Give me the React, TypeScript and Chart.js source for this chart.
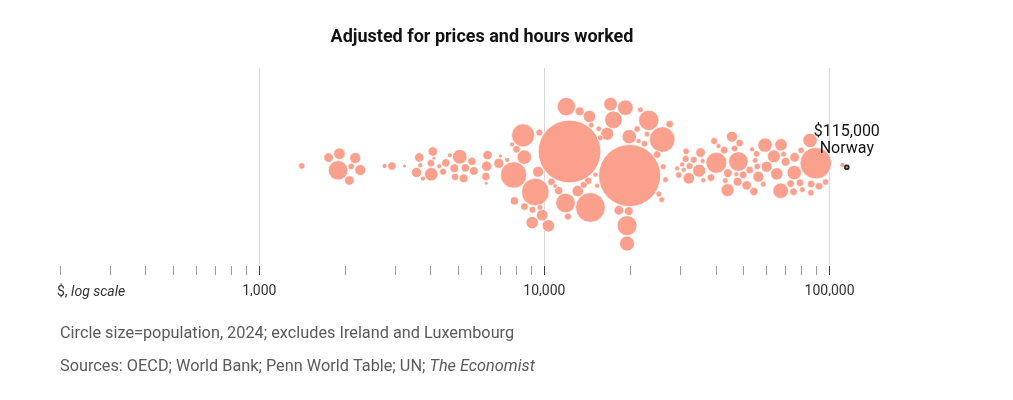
import { useEffect, useRef } from "react";
import { Chart, registerables } from "chart.js";

Chart.register(...registerables);

// GDP per person, adjusted for prices and hours worked ($)
const gdpAdjusted: number[] = [
  1410, 1890, 2100, 2170, 1750, 1910, 2070, 2260,
  2750, 2920, 3230, 3640, 3750, 4060, 4100, 3560, 3670, 4010, 4000, 4280,
  4410, 4510, 4660, 4860, 5210, 5280, 5050, 4830, 5570, 5660, 6250, 6230,
  6320, 6270, 6920, 7010, 7400,
  9290, 11860, 13300, 14230, 7800, 9060, 12250, 17060, 19230, 16600, 18240,
  19770, 15700, 25900, 19900, 7850, 8500, 9500, 8420, 9600, 10330, 11220,
  12090, 13090, 14390, 7980, 8510, 9080, 9820, 10590, 11940, 14500, 13730,
  14600, 17460, 19850, 23230, 19490, 19500, 21150, 22430, 24850, 15500,
  15100, 15300, 21700, 22900, 21400, 9650, 10900, 7700,
  25800, 26100, 27500, 26600, 25200, 29600, 30800, 31300, 31400, 32100,
  32300, 34900, 33400, 35300, 36100, 38400, 39400, 40100, 40800, 42700,
  43100, 43900, 44000, 45500, 47600, 47900, 46400, 47100, 49800, 51200,
  48400, 52500, 54300, 56300, 29200, 30400, 35900,
  67400, 74800, 78800, 86000, 85500, 75400, 67600, 60200, 55500, 55800,
  53500, 80300, 86200, 91900, 96900, 75200, 63800, 58600, 54800, 70100,
  79500, 89500, 59400, 65300, 73000, 69000, 111000,
  115000,
];

// Population 2024, millions (from circle areas)
const populationM: number[] = [
  15.4, 140, 15.4, 44.7, 33.7, 49, 33.7, 44.7,
  6.8, 25.8, 3.3, 32.5, 6.8, 32.5, 3.3, 38, 9.3, 65.4, 21.4, 9.3,
  18, 25.8, 6.8, 20, 29, 25.8, 78, 29, 25.8, 28, 3.3, 23.5,
  32.5, 39, 38, 4.1, 6.8,
  280, 140, 29, 21.4, 255, 56.8, 1440, 67.6, 89, 62, 33.7,
  29, 11.8, 240, 1410, 24.6, 76, 44.7, 194, 18, 56.8, 25.8,
  18, 49, 56.8, 21.4, 21.4, 18, 49, 21.4, 124, 322, 18,
  11.8, 113.6, 76, 152, 82, 146, 15.4, 15.4, 21.4, 11.8,
  9.3, 9.3, 11.8, 11.8, 9.3, 11.8, 8.1, 6.8,
  11.8, 13, 21.4, 11.8, 13, 15.4, 9.3, 18, 15.4, 49,
  18, 62, 18, 33.7, 9.3, 21.4, 18, 161, 9.3, 21.4,
  11.8, 62, 29, 44.7, 29, 140, 15.4, 9.3, 21.4, 32.5,
  21.4, 21.4, 25.8, 44.7, 9.3, 9.3, 9.3,
  89, 21.4, 21.4, 15.4, 76, 33.7, 56.8, 44.7, 15.4, 15.4,
  9.3, 11.8, 21.4, 21.4, 15.4, 76, 62, 11.8, 11.8, 29,
  15.4, 363, 76, 56.8, 21.4, 11.8, 6.8,
  5.5,
];

const highlightCountry = "Norway";
const highlightIndex = gdpAdjusted.length - 1;

const minorTicks: number[] = [
  200, 300, 400, 500, 600, 700, 800, 900,
  2000, 3000, 4000, 5000, 6000, 7000, 8000, 9000,
  20000, 30000, 40000, 50000, 60000, 70000, 80000, 90000,
];
const majorTicks: number[] = [1000, 10000, 100000];
const majorTickLabels: string[] = ["1,000", "10,000", "100,000"];

const titleText = "Adjusted for prices and hours worked";
const axisNote = ["$, ", "log scale"];
const footnote = "Circle size=population, 2024; excludes Ireland and Luxembourg";
const sourceNote = ["Sources: OECD; World Bank; Penn World Table; UN; ", "The Economist"];

const FILL = "rgb(250,160,140)";
const MAX_R = 31;
const MAX_POP = 1410;
const FONT = "Roboto";

// Beeswarm layout: a force pass to pack the circles, then a vertical-only pass
// with x fixed on the data values so that nothing overlaps.
function swarm(tx: number[], radii: number[], cy: number, pad: number): number[] {
  const n = tx.length;
  const x = tx.slice();
  const y = tx.map((_, i) => cy - (((i * 37) % 17) - 8) * 0.35);
  const vx = new Array(n).fill(0);
  const vy = new Array(n).fill(0);
  const r = radii.map((v) => v + pad);
  let alpha = 1;
  const alphaDecay = 1 - Math.pow(0.001, 1 / 300);
  for (let t = 0; t < 300; t++) {
    alpha += -alpha * alphaDecay;
    for (let i = 0; i < n; i++) {
      vx[i] += (tx[i] - x[i]) * 1 * alpha;
      vy[i] += (cy - y[i]) * 0.08 * alpha;
    }
    for (let it = 0; it < 2; it++) {
      for (let i = 0; i < n; i++) {
        const xi = x[i] + vx[i];
        const yi = y[i] + vy[i];
        const ri = r[i];
        const ri2 = ri * ri;
        for (let j = i + 1; j < n; j++) {
          let dx = xi - (x[j] + vx[j]);
          let dy = yi - (y[j] + vy[j]);
          const rr = ri + r[j];
          let l = dx * dx + dy * dy;
          if (l < rr * rr) {
            if (dy === 0) dy = (j % 2 ? 1 : -1) * 1e-3;
            if (dx === 0) dx = (i % 2 ? 1 : -1) * 1e-3;
            l = Math.sqrt(dx * dx + dy * dy);
            const k = (rr - l) / l;
            dx *= k;
            dy *= k;
            const rj2 = r[j] * r[j];
            const w = rj2 / (ri2 + rj2);
            vx[i] += dx * w;
            vy[i] += dy * w;
            vx[j] -= dx * (1 - w);
            vy[j] -= dy * (1 - w);
          }
        }
      }
    }
    for (let i = 0; i < n; i++) {
      vx[i] *= 0.6;
      vy[i] *= 0.6;
      x[i] += vx[i];
      y[i] += vy[i];
    }
  }
  // vertical-only clean-up with x on the data values
  const rc = radii.map((v) => v + pad * 0.5);
  for (let t = 0; t < 80; t++) {
    const d = new Array(n).fill(0);
    for (let i = 0; i < n; i++) {
      for (let j = i + 1; j < n; j++) {
        const dx = tx[i] - tx[j];
        const rr = rc[i] + rc[j];
        if (Math.abs(dx) >= rr) continue;
        let dy = y[i] - y[j];
        if (dy === 0) dy = (j % 2 ? 1 : -1) * 1e-3;
        const need = Math.sqrt(rr * rr - dx * dx);
        if (Math.abs(dy) < need) {
          const push = (need - Math.abs(dy)) * Math.sign(dy) * 0.5;
          const ri2 = rc[i] * rc[i];
          const rj2 = rc[j] * rc[j];
          const w = rj2 / (ri2 + rj2);
          d[i] += push * w;
          d[j] -= push * (1 - w);
        }
      }
    }
    for (let i = 0; i < n; i++) y[i] += d[i];
  }
  return y;
}

export default function App() {
  const ref = useRef<HTMLCanvasElement>(null);

  useEffect(() => {
    const canvas = ref.current;
    if (!canvas) return;
    const radii = populationM.map((p) => MAX_R * Math.sqrt(p / MAX_POP));
    const allTicks = [...minorTicks, ...majorTicks].sort((a, b) => a - b);
    const isMajor = (v: number) => majorTicks.includes(v);

    const textPlugin = {
      id: "texts",
      afterDatasetsDraw(chart: any) {
        const ctx = chart.ctx;
        const el = chart.getDatasetMeta(0).data[highlightIndex];
        if (!el) return;
        ctx.save();
        ctx.fillStyle = "#121212";
        ctx.textAlign = "center";
        ctx.textBaseline = "alphabetic";
        ctx.font = `16px ${FONT}`;
        ctx.fillText("$" + gdpAdjusted[highlightIndex].toLocaleString("en-US"), el.x, el.y - 31);
        ctx.fillText(highlightCountry, el.x, el.y - 14);
        ctx.restore();
      },
      afterDraw(chart: any) {
        const ctx = chart.ctx;
        ctx.save();
        ctx.textBaseline = "alphabetic";
        ctx.fillStyle = "#121212";
        ctx.textAlign = "center";
        ctx.font = `bold 18px ${FONT}`;
        ctx.fillText(titleText, 482, 42);

        ctx.textAlign = "left";
        const xs = chart.scales.x;
        const x0 = xs.getPixelForValue(allTicks[0]) - 3;
        ctx.fillStyle = "#333333";
        ctx.font = `14px ${FONT}`;
        ctx.fillText(axisNote[0], x0, 296);
        const w0 = ctx.measureText(axisNote[0]).width;
        ctx.font = `italic 14px ${FONT}`;
        ctx.fillText(axisNote[1], x0 + w0, 296);

        ctx.fillStyle = "#5a5a5a";
        ctx.font = `16.3px ${FONT}`;
        ctx.fillText(footnote, 60, 338);
        ctx.fillText(sourceNote[0], 60, 371);
        const w1 = ctx.measureText(sourceNote[0]).width;
        ctx.font = `italic 16.3px ${FONT}`;
        ctx.fillText(sourceNote[1], 60 + w1, 371);
        ctx.restore();
      },
    };

    const chart = new Chart(canvas, {
      type: "bubble",
      data: {
        datasets: [
          {
            data: gdpAdjusted.map((v, i) => ({ x: v, y: 0, r: radii[i] })),
            backgroundColor: FILL,
            borderColor: (c: any) => (c.dataIndex === highlightIndex ? "#2a2a2a" : "#ffffff"),
            borderWidth: (c: any) =>
              c.dataIndex === highlightIndex ? 1.8 : radii[c.dataIndex] < 2.2 ? 0 : 0.7,
            hoverRadius: 0,
          } as any,
        ],
      },
      options: {
        responsive: false,
        animation: false,
        events: [],
        layout: { padding: { left: 60, right: 151, top: 68, bottom: 104 } },
        plugins: { legend: { display: false }, tooltip: { enabled: false }, title: { display: false } },
        scales: {
          x: {
            type: "logarithmic",
            min: 200,
            max: 130000,
            position: "bottom",
            afterBuildTicks: (scale: any) => {
              scale.ticks = allTicks.map((v) => ({ value: v, major: isMajor(v) }));
            },
            afterFit: (scale: any) => {
              scale.height = 30;
            },
            ticks: {
              autoSkip: false,
              maxRotation: 0,
              minRotation: 0,
              padding: 8,
              color: "#333333",
              font: { family: FONT, size: 14 },
              callback: (v: any) => {
                const i = majorTicks.indexOf(Number(v));
                return i >= 0 ? majorTickLabels[i] : "";
              },
            },
            grid: {
              color: (c: any) => (c.tick && isMajor(c.tick.value) ? "#d9d9d9" : "rgba(0,0,0,0)"),
              tickColor: (c: any) => (c.tick && isMajor(c.tick.value) ? "#3a3a3a" : "#9a9a9a"),
              tickLength: 9,
              lineWidth: 1,
              drawTicks: true,
            },
            border: { display: false },
          } as any,
          y: { type: "linear", min: -100, max: 100, display: false },
        },
      },
      plugins: [textPlugin],
    });

    const xs = chart.scales.x;
    const ys = chart.scales.y;
    const area = chart.chartArea;
    const cy = (area.top + area.bottom) / 2 - 1;
    const px = gdpAdjusted.map((v) => xs.getPixelForValue(v));
    const py = swarm(px, radii, cy, 0.6);
    chart.data.datasets[0].data = gdpAdjusted.map((v, i) => ({
      x: v,
      y: ys.getValueForPixel(py[i]) as number,
      r: radii[i],
    }));
    chart.update("none");

    return () => chart.destroy();
  }, []);

  return (
    <div style={{ position: "absolute", left: 0, top: 0, width: 1013, height: 400, background: "#ffffff" }}>
      <canvas ref={ref} width={1013} height={400} style={{ display: "block", width: 1013, height: 400 }} />
    </div>
  );
}
